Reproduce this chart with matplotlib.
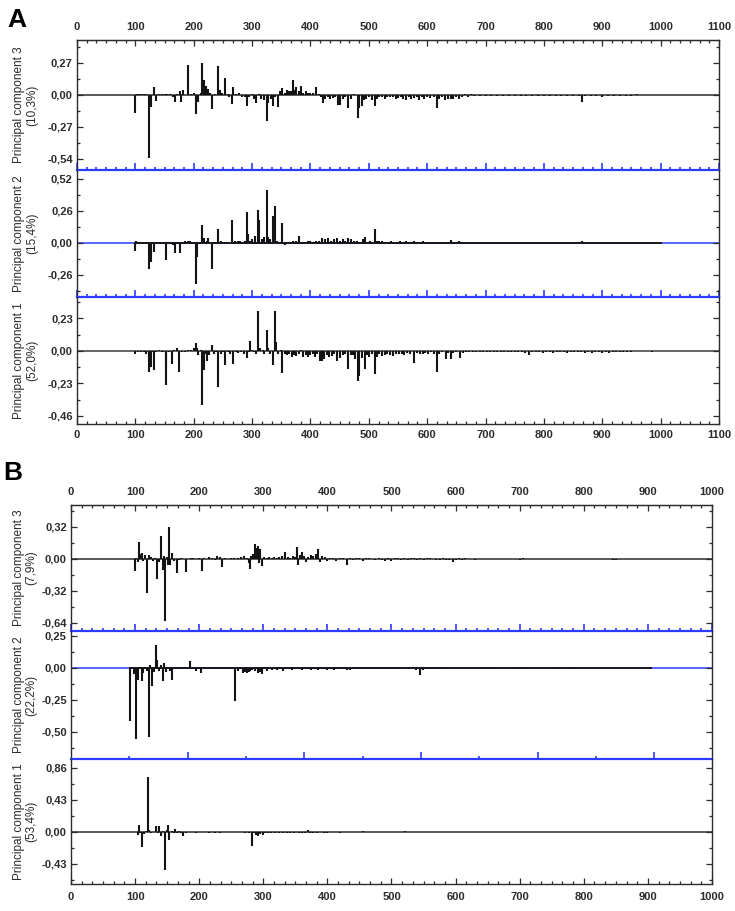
import matplotlib
matplotlib.use('Agg')
import matplotlib.pyplot as plt
from matplotlib.ticker import MultipleLocator, AutoMinorLocator, FixedLocator, FuncFormatter

plt.rcParams['font.family'] = ['Liberation Sans', 'DejaVu Sans']

# ---------------- Panel A data ----------------
A_labels = ["Principal component 3\n(10,3%)", "Principal component 2\n(15,4%)", "Principal component 1\n(52,0%)"]
A_xticks = [0, 100, 200, 300, 400, 500, 600, 700, 800, 900, 1000, 1100]

A3_pos = [100,103,106,110,114,118,123,126,132,135,140,145,150,155,160,164,168,172,176,179,182,190,195,200,204,207,212,215,217,221,225,228,231,236,242,245,249,253,258,261,265,268,273,278,282,287,291,295,300,304,307,311,315,320,325,328,332,336,340,344,347,352,356,360,364,367,370,373,376,380,383,387,392,396,400,405,410,414,418,421,425,430,434,438,442,447,450,455,460,465,470,475,481,484,488,492,496,500,505,510,514,518,523,528,532,537,541,546,550,555,559,564,568,573,578,582,586,591,595,600,605,611,616,620,625,630,635,640,645,650,655,660,665,670,675,680,690,700,710,720,730,740,750,760,770,780,790,800,810,820,830,840,850,860,866,870,880,890,900,910,920,930,940,950,960,980,990]
A3_val = [-0.15,0.01,0.01,0.01,0.01,0.008,-0.53,-0.10,0.065,-0.05,0.01,0.012,0.008,0.01,0.006,-0.02,-0.056,0.01,0.03,-0.056,0.04,0.25,0.01,0.015,-0.16,-0.056,0.02,0.27,0.13,0.08,0.05,0.02,-0.12,0.01,0.245,0.04,0.02,0.14,0.01,-0.02,-0.08,0.065,0.01,0.02,-0.02,-0.015,-0.09,-0.02,0.01,-0.03,-0.07,0.01,-0.03,-0.04,-0.22,-0.07,-0.03,-0.09,-0.02,-0.10,0.03,0.056,0.02,0.04,0.035,0.03,0.13,0.04,0.07,0.03,0.075,0.015,0.03,0.02,0.015,0.02,0.07,0.01,-0.02,-0.07,-0.03,-0.02,-0.03,-0.025,-0.02,-0.085,-0.085,-0.03,-0.02,-0.11,-0.03,0.01,-0.19,-0.11,-0.09,-0.04,-0.03,-0.02,-0.04,-0.095,-0.03,-0.02,-0.015,-0.03,-0.02,-0.015,-0.02,-0.03,-0.025,-0.02,-0.03,-0.045,-0.02,-0.035,-0.025,-0.015,-0.045,-0.02,-0.03,-0.02,-0.025,-0.02,-0.11,-0.03,-0.015,-0.04,-0.03,-0.035,-0.03,-0.02,-0.03,-0.02,0.01,-0.015,0.008,-0.01,-0.008,-0.01,-0.006,-0.01,-0.008,-0.01,-0.01,-0.012,-0.008,-0.01,-0.01,-0.008,-0.01,-0.006,-0.01,-0.008,-0.01,-0.008,-0.055,-0.01,-0.008,-0.01,-0.015,-0.008,-0.01,-0.008,-0.005,-0.006,0.005,-0.004,-0.004]

A2_pos = [100,101,105,110,115,118,123,126,129,132,137,141,147,152,155,160,164,168,172,177,181,185,190,194,198,204,206,211,215,218,222,225,231,236,242,247,252,257,265,270,275,280,284,288,291,293,297,300,305,310,312,317,321,325,327,331,336,339,343,348,352,356,360,365,370,375,380,385,390,395,400,405,410,415,420,425,430,435,440,445,450,455,460,465,470,475,480,485,490,493,497,502,510,514,518,523,528,533,538,543,548,553,558,563,568,573,578,583,588,593,598,603,608,613,618,623,628,634,640,645,650,655,660,670,680,690,700,710,720,730,740,750,760,770,780,790,800,810,820,830,840,850,860,866,870,880,890,900,910,920,930,940,950,960,970,980,990,1000]
A2_val = [-0.065,0.015,0.005,0.005,0.008,0.005,-0.215,-0.155,0.005,-0.075,0.003,0.005,0.005,-0.135,0.01,0.01,-0.015,-0.08,0.01,-0.08,0.01,0.015,0.02,0.015,0.008,-0.33,-0.115,0.01,0.145,0.04,0.02,0.04,-0.215,0.01,0.11,0.015,0.005,0.01,0.19,0.02,0.015,0.02,0.01,0.02,0.25,0.076,0.02,0.03,0.054,0.27,0.19,0.03,0.05,0.43,0.05,0.03,0.22,0.30,0.02,0.01,0.16,-0.02,0.01,0.008,0.015,0.015,0.06,0.01,0.008,0.012,0.015,0.01,0.02,0.015,0.04,0.03,0.04,0.02,0.035,0.04,0.02,0.03,0.015,0.04,0.03,0.015,0.02,0.01,0.03,0.05,0.01,0.015,0.115,0.02,0.015,0.02,0.008,0.01,0.02,0.01,0.008,0.012,0.01,0.015,0.008,0.01,0.012,0.005,0.01,0.015,0.008,0.01,0.008,0.01,0.006,0.005,0.01,0.006,0.025,0.01,0.008,0.015,0.006,-0.005,0.005,-0.004,0.004,-0.004,0.005,0.004,-0.004,0.004,0.006,0.005,0.004,0.005,0.006,0.005,0.004,0.005,0.006,0.004,0.005,0.015,0.005,0.004,0.005,0.01,0.005,0.008,0.004,0.005,0.004,0.005,0.004,0.005,0.004,0.003]

A1_pos = [100,104,110,115,118,123,126,129,132,136,140,145,148,152,153,158,162,167,171,175,180,185,190,196,200,204,206,208,212,215,217,220,223,227,231,235,238,242,246,250,253,258,263,267,272,276,281,286,291,294,296,300,304,307,310,313,318,321,325,327,331,336,339,341,345,349,352,356,360,364,368,372,376,380,384,388,392,396,400,404,408,412,416,420,424,428,432,437,441,446,450,455,460,465,469,473,477,481,484,488,493,497,501,505,510,514,518,523,528,532,537,541,546,551,556,561,566,571,577,582,587,592,596,601,606,611,616,620,625,632,636,640,645,650,657,662,667,672,678,684,690,696,702,708,714,720,726,732,738,744,750,756,762,768,775,780,786,792,798,804,810,816,822,828,834,840,846,852,858,864,870,876,882,888,894,900,906,912,918,924,930,936,942,950,985]
A1_val = [-0.024,-0.005,-0.005,-0.01,-0.02,-0.146,-0.11,-0.01,-0.137,-0.01,0.005,-0.01,-0.01,-0.24,-0.115,-0.01,-0.094,0.01,0.02,-0.15,-0.01,-0.01,0.005,0.01,0.02,0.054,0.02,-0.03,0.01,-0.38,-0.134,-0.02,-0.07,-0.03,0.04,-0.02,-0.01,-0.253,-0.02,-0.01,-0.10,-0.01,-0.02,-0.09,-0.01,-0.015,-0.01,-0.02,-0.047,-0.01,0.07,0.01,-0.01,-0.02,0.283,0.02,0.01,-0.02,0.146,0.02,-0.02,-0.10,0.283,0.064,-0.02,0.01,-0.158,-0.02,-0.03,-0.025,-0.04,-0.03,-0.035,-0.02,0.01,-0.04,-0.03,-0.045,-0.03,-0.025,-0.045,-0.02,-0.07,-0.07,-0.06,-0.03,-0.045,-0.035,-0.02,-0.07,-0.05,-0.03,-0.025,-0.125,-0.03,-0.03,-0.06,-0.212,-0.18,-0.05,-0.125,-0.03,-0.04,-0.025,-0.165,-0.04,-0.02,-0.035,-0.03,-0.02,-0.03,-0.035,-0.02,-0.025,-0.02,-0.03,-0.015,-0.02,-0.087,-0.015,-0.02,-0.025,-0.015,-0.02,-0.01,-0.02,-0.149,-0.02,-0.01,-0.054,-0.015,-0.059,-0.015,-0.01,-0.047,-0.015,-0.01,-0.01,-0.008,-0.008,-0.01,-0.008,-0.01,-0.006,-0.01,-0.008,-0.01,-0.006,-0.01,-0.008,-0.01,-0.01,-0.008,-0.012,-0.03,-0.01,-0.01,-0.008,-0.012,-0.01,-0.008,-0.012,-0.01,-0.008,-0.01,-0.012,-0.008,-0.01,-0.01,-0.006,-0.015,-0.008,-0.012,-0.008,-0.01,-0.015,-0.008,-0.012,-0.01,-0.006,-0.01,-0.008,-0.006,-0.004,-0.006]

# ---------------- Panel B data ----------------
B_labels = ["Principal component 3\n(7,9%)", "Principal component 2\n(22,2%)", "Principal component 1\n(53,4%)"]
B_xticks = [0, 100, 200, 300, 400, 500, 600, 700, 800, 900, 1000]

B3_pos = [100,102,104,106,108,110,112,115,119,122,125,128,131,134,137,140,143,145,146,149,151,153,155,157,160,165,168,172,176,179,183,187,191,195,200,204,208,212,216,220,224,228,232,235,240,245,250,255,260,265,270,274,277,279,281,284,287,289,291,293,295,298,301,305,309,313,317,321,325,329,334,338,342,346,350,352,354,357,360,363,366,370,374,378,382,386,389,392,396,400,404,409,414,419,424,430,435,440,445,450,455,460,465,470,475,480,485,490,495,500,505,510,515,520,525,530,535,540,545,550,555,560,565,570,575,580,585,590,596,600,605,610,615,620,625,630,640,650,660,670,680,690,700,705,710,720,730,740,750,760,845,850]
B3_val = [-0.12,0.01,-0.03,0.17,0.05,0.06,-0.02,0.04,-0.343,0.04,0.02,-0.02,0.01,-0.20,-0.03,0.23,-0.11,0.03,-0.616,0.02,-0.06,0.323,-0.06,0.06,-0.02,-0.137,-0.01,0.01,0.005,-0.127,0.005,0.01,0.008,0.005,0.01,-0.12,0.01,0.005,0.02,0.015,-0.01,0.03,0.02,-0.077,0.01,0.005,0.01,0.015,0.01,0.02,0.03,0.015,-0.04,-0.10,0.03,0.05,0.147,0.11,0.13,-0.04,0.10,-0.07,0.02,0.01,0.025,0.01,0.02,0.015,0.02,0.03,0.073,0.02,0.015,0.03,0.02,0.117,-0.055,0.04,0.073,0.03,-0.03,0.02,0.04,0.03,0.05,0.097,-0.025,0.03,0.02,-0.02,0.015,0.01,-0.02,0.008,0.01,-0.06,0.008,-0.01,0.008,0.01,-0.015,0.008,0.01,0.005,-0.01,0.008,-0.01,-0.015,0.01,-0.015,0.012,0.01,-0.01,0.008,-0.008,0.015,0.01,-0.008,0.01,-0.008,0.012,0.008,0.005,-0.01,-0.008,0.006,-0.01,-0.008,-0.025,-0.01,0.006,-0.005,0.006,-0.004,0.005,-0.005,0.004,-0.004,0.004,-0.004,0.005,0.005,-0.006,0.006,0.005,-0.004,0.004,-0.004,0.004,-0.004,-0.008,-0.006]

B2_pos = [92,95,98,101,104,107,110,113,116,119,122,124,126,129,132,134,137,140,143,145,148,151,155,158,162,166,170,175,180,185,190,195,199,203,207,211,215,220,225,230,235,240,245,250,256,260,264,268,271,274,277,280,283,287,291,295,298,301,305,309,313,317,321,325,330,335,340,345,350,355,360,365,370,375,380,385,390,395,400,405,410,415,420,425,430,435,440,445,450,455,460,465,470,475,480,485,490,495,500,506,512,520,527,533,538,544,549,553,558,563,568,575,585,595,605,625,640,650,660,670,680,690,700,710,720,735,750,760,775,785,795,805,820,830,845,855,870,880,895,905]
B2_val = [-0.417,0.005,-0.05,-0.555,-0.09,0.004,-0.10,-0.04,0.006,-0.02,-0.54,0.02,-0.144,-0.03,0.18,0.065,-0.02,0.02,-0.10,0.04,-0.03,0.01,-0.02,-0.09,0.005,-0.01,0.005,-0.005,0.01,0.052,-0.01,-0.02,-0.01,-0.04,0.005,-0.008,0.006,-0.01,0.005,-0.008,-0.01,0.008,-0.006,-0.01,-0.255,-0.02,-0.01,-0.04,-0.035,-0.04,-0.03,-0.025,-0.015,-0.02,-0.04,-0.03,-0.045,-0.01,-0.02,-0.01,-0.015,-0.01,-0.015,-0.01,-0.02,-0.008,-0.01,-0.015,-0.01,-0.008,-0.012,-0.01,-0.01,-0.015,-0.01,-0.012,-0.006,-0.01,-0.012,-0.01,-0.015,-0.008,-0.01,-0.006,-0.012,-0.015,-0.01,-0.008,-0.01,-0.006,-0.008,-0.01,-0.008,-0.01,-0.006,-0.008,-0.01,-0.006,-0.008,-0.005,-0.006,-0.008,-0.01,0.005,-0.015,-0.052,-0.012,-0.008,-0.01,-0.006,-0.005,-0.005,-0.004,-0.004,-0.005,-0.004,-0.005,0.004,-0.004,-0.005,-0.004,-0.005,-0.006,-0.004,-0.005,-0.005,-0.006,-0.004,-0.005,-0.004,-0.006,-0.004,-0.005,-0.004,-0.004,-0.005,-0.004,-0.004,-0.005,-0.004]

B1_pos = [104,106,108,111,114,117,120,122,125,128,133,135,138,140,143,146,149,152,153,157,160,163,166,169,172,175,179,185,195,205,215,225,232,240,250,272,278,282,285,288,292,295,299,303,307,312,318,325,330,337,342,348,355,360,365,370,373,378,383,390,395,400,410,420,430,440,450,456,460,467,475,482,490,500,508,515,521,530,545,560,570,585,600]
B1_val = [-0.045,0.09,-0.02,-0.20,-0.03,0.01,0.74,0.02,-0.01,0.005,0.076,-0.02,0.076,-0.05,0.01,-0.515,0.02,0.09,-0.11,0.01,-0.015,0.04,-0.02,0.01,-0.02,-0.058,-0.01,-0.005,-0.008,-0.005,-0.01,-0.008,-0.01,-0.006,-0.005,-0.01,-0.02,-0.19,-0.02,-0.04,-0.05,-0.03,-0.04,-0.02,-0.01,-0.008,-0.01,-0.012,-0.008,-0.01,-0.012,-0.008,-0.01,-0.012,-0.008,0.02,-0.01,-0.008,-0.012,-0.006,-0.01,-0.008,-0.006,-0.008,-0.005,-0.006,-0.005,0.015,-0.005,-0.004,-0.005,-0.004,-0.005,-0.004,0.004,-0.004,0.006,-0.004,0.004,-0.004,-0.004,-0.004,-0.005]

# special tick positions on the B2/B1 separator
B_sep_major = [182, 364, 546, 728, 910]
B_sep_minor = [91, 273, 455, 637, 819]

BLUE = '#2b3cff'
DARK = '#2b2b2b'
SPIKE = '#141414'

fig = plt.figure(figsize=(7.35, 9.11), dpi=100)


def comma_fmt(v, pos):
    s = f'{v:.2f}'.replace('.', ',')
    if s == '-0,00':
        s = '0,00'
    return s


def draw(rect, pos, val, xticks, ylim, ystep, ylabel, zero_color, role,
         label_x, base=False, sep_ticks=None):
    xmax = xticks[-1]
    ax = fig.add_axes(rect)
    ax.set_facecolor('none')
    ax.set_xlim(0, xmax)
    ax.set_ylim(*ylim)
    ax.axhline(0, color=zero_color, lw=1.1, zorder=1)
    if base:
        ax.plot([min(pos), max(pos)], [0, 0], color=SPIKE, lw=1.3, zorder=2)
    ax.vlines(pos, 0, val, color=SPIKE, lw=1.5, zorder=3)

    # y axis
    ax.yaxis.set_major_locator(MultipleLocator(ystep))
    ax.yaxis.set_minor_locator(MultipleLocator(ystep / 2))
    ax.yaxis.set_major_formatter(FuncFormatter(comma_fmt))
    ax.tick_params(axis='y', which='both', direction='in', left=True, right=True,
                   color=DARK, labelcolor=DARK, labelsize=8, pad=3)
    ax.tick_params(axis='y', which='major', length=4, width=0.9)
    ax.tick_params(axis='y', which='minor', length=2, width=0.9)
    for t in ax.get_yticklabels():
        t.set_fontweight('bold')
    ax.set_ylabel(ylabel, fontsize=8.5, color=DARK, linespacing=1.1)
    ax.yaxis.set_label_coords(label_x, 0.5)

    for s in ['left', 'right', 'top', 'bottom']:
        ax.spines[s].set_color(DARK)
        ax.spines[s].set_linewidth(1.0)

    ax.xaxis.set_major_locator(FixedLocator(xticks))
    ax.xaxis.set_minor_locator(AutoMinorLocator(6))

    if role in ('top', 'mid'):
        # blue separator at the bottom with upward ticks
        ax.spines['bottom'].set_color(BLUE)
        ax.spines['bottom'].set_linewidth(1.6)
        if sep_ticks is not None:
            ax.xaxis.set_major_locator(FixedLocator(sep_ticks[0]))
            ax.xaxis.set_minor_locator(FixedLocator(sep_ticks[1]))
        ax.tick_params(axis='x', which='both', direction='in', bottom=True, top=False,
                       labelbottom=False, labeltop=False, color=BLUE, width=1.2)
        ax.tick_params(axis='x', which='major', length=5)
        ax.tick_params(axis='x', which='minor', length=2.5)
    if role in ('mid', 'bottom'):
        ax.spines['top'].set_visible(False)
    if role == 'top':
        sec = ax.secondary_xaxis('top')
        sec.xaxis.set_major_locator(FixedLocator(xticks))
        sec.xaxis.set_minor_locator(AutoMinorLocator(6))
        sec.tick_params(which='both', direction='in', color=DARK, labelcolor=DARK,
                        labelsize=8, pad=6, width=0.9)
        sec.tick_params(which='major', length=4)
        sec.tick_params(which='minor', length=2)
        sec.spines['top'].set_color(DARK)
        for t in sec.get_xticklabels():
            t.set_fontweight('bold')
    if role == 'bottom':
        ax.tick_params(axis='x', which='both', direction='in', bottom=True, top=False,
                       labelbottom=True, color=DARK, labelcolor=DARK, labelsize=8,
                       pad=4 if xmax > 1000 else 6, width=0.9)
        ax.tick_params(axis='x', which='major', length=4)
        ax.tick_params(axis='x', which='minor', length=2)
        for t in ax.get_xticklabels():
            t.set_fontweight('bold')
    return ax


H = 911.0
W = 735.0


def rect(l, r, top, bot):
    return [l / W, 1 - bot / H, (r - l) / W, (bot - top) / H]


# Panel A
axA3 = draw(rect(77, 719, 40, 170), A3_pos, A3_val, A_xticks, (-0.633, 0.464), 0.27,
            A_labels[0], DARK, 'top', -0.061)
axA2 = draw(rect(77, 719, 170, 297), A2_pos, A2_val, A_xticks, (-0.439, 0.593), 0.26,
            A_labels[1], BLUE, 'mid', -0.061, base=True)
axA1 = draw(rect(77, 719, 297, 424), A1_pos, A1_val, A_xticks, (-0.517, 0.382), 0.23,
            A_labels[2], '#3a3a3a', 'bottom', -0.061)

# Panel B
axB3 = draw(rect(71, 712, 505, 631), B3_pos, B3_val, B_xticks, (-0.72, 0.54), 0.32,
            B_labels[0], DARK, 'top', -0.052)
axB2 = draw(rect(71, 712, 631, 759), B2_pos, B2_val, B_xticks, (-0.711, 0.289), 0.25,
            B_labels[1], BLUE, 'mid', -0.052, base=True,
            sep_ticks=(B_sep_major, B_sep_minor))
axB1 = draw(rect(71, 712, 759, 884), B1_pos, B1_val, B_xticks, (-0.70, 0.98), 0.43,
            B_labels[2], DARK, 'bottom', -0.052)

fig.text(7 / W, 1 - 27 / H, 'A', fontsize=19, fontweight='bold', color='black', va='baseline')
fig.text(3 / W, 1 - 480 / H, 'B', fontsize=19, fontweight='bold', color='black', va='baseline')

fig.savefig('out.png', dpi=100)
